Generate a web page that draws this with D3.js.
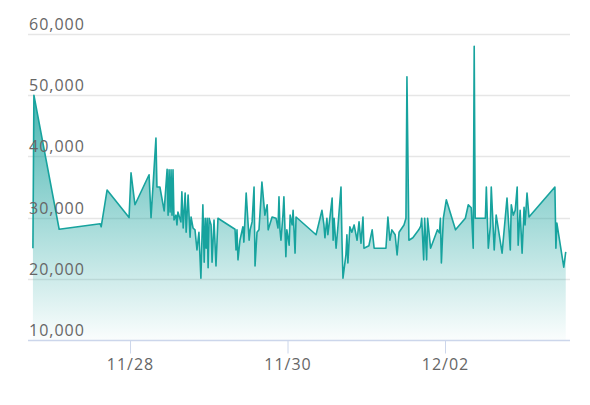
<!DOCTYPE html>
<html>
<head>
<meta charset="utf-8">
<script src="https://cdn.jsdelivr.net/npm/d3@7"></script>
<style>
  html, body { margin: 0; padding: 0; background: #fff; }
  svg { display: block; }
  .lbl { font-family: "Open Sans", sans-serif; font-size: 16px; fill: #666; letter-spacing: 1px; }
</style>
</head>
<body>
<svg id="chart" width="590" height="405"></svg>
<script>
// Hours since 2023-11-26 00:00
const hours = [18.4,18.7,26.4,38.9,39.2,41.0,47.7,48.3,49.5,53.8,54.4,55.9,56.2,57.1,58.4,59.3,59.6,59.9,60.2,60.5,60.8,61.1,61.4,62.0,62.3,62.6,63.5,63.8,64.2,64.8,65.1,65.7,66.3,66.6,67.2,67.8,68.4,69.0,69.6,70.2,70.6,70.9,71.2,71.5,71.8,72.1,72.7,73.0,73.6,74.2,74.8,80.0,80.3,80.6,80.9,81.5,82.4,82.7,83.4,84.3,84.6,85.2,85.8,86.1,86.7,87.3,88.2,89.1,89.8,90.1,91.3,92.5,93.1,93.4,93.7,94.0,94.6,94.9,95.5,95.8,96.5,96.8,97.4,97.7,98.3,98.6,104.7,106.5,107.1,107.4,108.0,108.3,108.9,109.6,109.9,110.2,110.8,111.4,112.3,112.6,112.9,113.8,114.1,114.4,115.0,115.6,116.3,117.2,117.8,118.4,119.0,119.3,120.8,121.8,122.4,126.0,126.6,127.2,127.8,128.8,129.4,130.0,131.5,132.1,132.4,133.0,134.2,136.0,136.6,136.9,137.5,137.8,138.4,138.7,139.6,140.8,141.7,142.3,142.6,142.9,143.5,144.4,147.2,150.2,151.1,152.0,152.6,152.9,153.2,156.3,156.6,156.9,157.2,157.8,158.1,159.0,159.6,161.4,162.9,163.9,164.2,164.8,165.4,166.0,166.3,166.9,167.5,168.1,168.4,169.0,169.6,177.5,177.8,178.1,180.2,180.8];
const values = [25000,50000,28100,29000,28500,34500,30000,37300,32100,37000,30000,43000,35000,35000,31100,37900,30400,37800,30900,37800,30400,37800,29600,30400,28800,30900,29300,34200,28300,34000,27600,33700,26800,30100,28300,28000,24700,27600,20100,32100,22700,29900,25000,29900,21800,29900,28800,22700,29600,22100,29900,28100,24700,28000,23100,26300,28500,26000,34000,26300,28000,29300,35000,22100,27600,28000,35800,30400,32100,28000,30100,29900,28300,33400,28000,26300,30400,33400,23600,28000,25500,30400,28800,31200,24200,30100,27200,31200,28800,26700,29900,27200,29900,33200,26300,29900,25000,28800,35000,26300,20100,23900,27200,22600,28500,27600,28800,26300,29300,25800,30100,25000,25400,28000,25000,25000,30100,26300,28000,27200,23900,27600,28800,29900,53000,26300,26700,28000,28600,29900,23100,29900,23100,29900,25000,26700,28000,27500,29900,22600,29900,32900,28000,29900,32100,31600,25000,58000,29900,29900,35000,29900,25000,28500,35000,24700,30400,24200,33200,24700,32100,30400,31200,35000,25500,31200,24200,31700,28800,34000,30100,35000,25000,29100,21900,24400];
const yTicks = [10000, 20000, 30000, 40000, 50000, 60000];
const xTickDates = ["2023-11-28", "2023-11-30", "2023-12-02"];

const base = new Date(2023, 10, 26, 0, 0, 0);
const data = hours.map((h, i) => ({ t: new Date(base.getTime() + h * 3600e3), v: values[i] }));

const svg = d3.select("#chart");
const L = 28, R = 570, T = 34, B = 340;
const x = d3.scaleTime()
  .domain([new Date(base.getTime() + 16.9 * 3600e3), new Date(base.getTime() + 182.1 * 3600e3)])
  .range([L, R]);
const y = d3.scaleLinear().domain([10000, 60000]).range([B, T]);

const defs = svg.append("defs");
const grad = defs.append("linearGradient").attr("id", "g")
  .attr("gradientUnits", "userSpaceOnUse")
  .attr("x1", 0).attr("x2", 0).attr("y1", y(50000)).attr("y2", B);
grad.append("stop").attr("offset", 0).attr("stop-color", "#1aa39e").attr("stop-opacity", 0.8);
grad.append("stop").attr("offset", 1).attr("stop-color", "#1aa39e").attr("stop-opacity", 0.02);

// grid
svg.append("g").selectAll("line").data(yTicks.filter(d => d > 10000)).join("line")
  .attr("x1", L).attr("x2", R)
  .attr("y1", d => Math.round(y(d)) + 0.5).attr("y2", d => Math.round(y(d)) + 0.5)
  .attr("stroke", "#e6e6e6").attr("stroke-width", 1.5);

// area & line
svg.append("path").datum(data)
  .attr("fill", "url(#g)")
  .attr("d", d3.area().x(d => x(d.t)).y0(B).y1(d => y(d.v)));
svg.append("path").datum(data)
  .attr("fill", "none").attr("stroke", "#17a39e").attr("stroke-width", 1.6)
  .attr("stroke-linejoin", "round")
  .attr("d", d3.line().x(d => x(d.t)).y(d => y(d.v)));

// x axis
const xt = xTickDates.map(s => { const p = s.split("-"); return new Date(+p[0], +p[1] - 1, +p[2]); });
const xAxis = d3.axisBottom(x).tickValues(xt).tickFormat(d3.timeFormat("%m/%d")).tickSize(13).tickSizeOuter(0).tickPadding(4);
const gx = svg.append("g").attr("transform", `translate(0,${B + 0.5})`).call(xAxis);
gx.select(".domain").attr("stroke", "#ccd6eb").attr("stroke-width", 1.5).attr("d", `M${L},0H${R}`);
gx.selectAll(".tick line").attr("stroke", "#ccd6eb");
gx.selectAll(".tick text").attr("class", "lbl").attr("font-size", null).attr("font-family", null).attr("fill", null).attr("y", 29).attr("dy", null);

// y labels
svg.append("g").selectAll("text").data(yTicks).join("text")
  .attr("class", "lbl")
  .attr("x", L + 1).attr("y", d => y(d) - 4)
  .text(d => d3.format(",")(d));
</script>
</body>
</html>
